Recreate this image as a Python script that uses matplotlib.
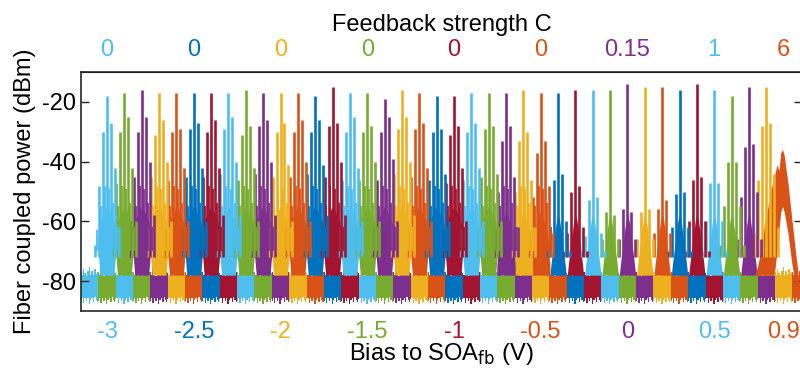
import numpy as np
import matplotlib
matplotlib.use('Agg')
import matplotlib.pyplot as plt

plt.rcParams['font.family'] = ['Liberation Sans', 'DejaVu Sans']
plt.rcParams['axes.unicode_minus'] = False

# MATLAB default colour order
BLUE, ORANGE, YELLOW, PURPLE = '#0072BD', '#D95319', '#EDB120', '#7E2F8E'
GREEN, LBLUE, RED = '#77AC30', '#4DBEEE', '#A2142F'
CYCLE = [BLUE, ORANGE, YELLOW, PURPLE, GREEN, LBLUE, RED]

'''
Data read off the picture
'''
bias = np.round(np.arange(-3.0, 0.95, 0.1), 2)          # 40 spectra, -3 .. 0.9 V
# spectra were plotted from 0.9 V downwards, colour order starting at orange
spec_colors = [CYCLE[(1 + (len(bias) - 1 - m)) % 7] for m in range(len(bias))]

# visible noise-floor block colours, left to right (one block per 0.1 V)
floor_colors = [LBLUE, GREEN] + spec_colors

# longitudinal mode peak heights (dBm), modes -3..+3 around the main mode
peaks = [
    [-68, -48, -30, -18, -27, -42, -62],
    [-62, -47, -30, -17, -25, -42, -60],
    [-60, -45, -30, -16, -25, -40, -58],
    [-62, -45, -31, -17, -26, -40, -60],
    [-62, -46, -30, -17, -29, -42, -60],
    [-62, -45, -29, -17, -27, -42, -60],
    [-60, -45, -30, -17, -26, -42, -58],
    [-60, -44, -29, -17, -25, -40, -58],
    [-62, -46, -31, -16, -28, -42, -60],
    [-60, -44, -28, -17, -26, -40, -58],
    [-62, -45, -30, -17, -27, -41, -60],
    [-62, -45, -30, -17, -26, -40, -60],
    [-60, -44, -30, -18, -26, -41, -58],
    [-60, -45, -28, -15, -27, -40, -58],
    [-62, -46, -30, -17, -25, -42, -60],
    [-62, -46, -30, -17, -28, -40, -60],
    [-62, -46, -30, -19, -25, -39, -60],
    [-60, -44, -29, -16, -25, -40, -58],
    [-62, -45, -29, -17, -27, -42, -60],
    [-62, -46, -30, -18, -29, -44, -60],
    [-62, -47, -31, -18, -28, -42, -60],
    [-62, -46, -30, -17, -27, -42, -60],
    [-62, -45, -29, -17, -28, -44, -60],
    [-64, -50, -33, -17, -28, -45, -62],
    [-64, -50, -33, -16, -30, -46, -62],
    [-66, -52, -37, -17, -33, -48, -64],
    [-70, -62, -46, -17, -44, -60, -70],
    [-70, -64, -50, -16, -48, -62, -70],
    [-70, -65, -53, -16, -52, -64, -70],
    [-72, -66, -57, -16, -58, -66, -72],
    [-72, -66, -56, -14, -57, -66, -72],
    [-72, -66, -57, -15, -56, -66, -72],
    [-72, -64, -56, -15, -53, -64, -72],
    [-70, -62, -51, -16, -50, -62, -70],
    [-70, -60, -46, -14, -45, -60, -70],
    [-70, -60, -47, -16, -47, -60, -70],
    [-68, -55, -40, -18, -40, -55, -68],
    [-66, -52, -35, -15, -34, -50, -66],
    [-64, -46, -28, -15, -27, -44, -62],
]
mode_spacing = 0.023   # V
# weaker lines sitting between the modes (wide clusters only)
sub_offsets = [-0.058, -0.035, -0.012, 0.012, 0.035, 0.058]
sub_heights = [-63, -55, -48, -49, -54, -62]

# pedestal (ASE shoulder) profile around each cluster, offset in V
ped_u = [-0.053, -0.047, -0.040, -0.025, -0.01, 0.0, 0.01, 0.025, 0.040, 0.047, 0.053]
ped_wide_hi = [-66, -63, -60, -58, -56, -55, -56, -58, -60, -63, -66]
ped_wide_lo = [-68, -73, -78, -78, -78, -78, -78, -78, -78, -73, -68]
ped_mid_hi = [-75, -70, -65, -61, -58, -57, -58, -61, -65, -70, -75]
ped_narrow_hi = [-78, -78, -74, -67, -60, -57, -60, -67, -74, -78, -78]
ped_flat_lo = [-78, -78, -78, -78, -78, -78, -78, -78, -78, -78, -78]

# broad emission at 0.9 V (C = 6)
hump_v = [0.735, 0.750, 0.765, 0.780, 0.795, 0.810, 0.825, 0.838, 0.850, 0.862,
          0.873, 0.883, 0.894, 0.904, 0.913, 0.925, 0.936, 0.947, 0.959, 0.968,
          0.977, 0.986, 0.994, 1.006]
hump_hi = [-78, -75, -71, -66, -60, -55, -50, -47, -44, -41,
           -43, -37, -36, -38, -42, -47, -53, -59, -65, -70,
           -74, -79, -83, -86]
hump_lo = [-78, -78, -78, -78, -78, -78, -78, -78, -76, -70,
           -63, -57, -55, -57, -60, -64, -69, -74, -78, -82,
           -85, -86, -86, -86]

# noise floor band and the ragged edge of it seen in every block
floor_lo, floor_hi = -86.0, -77.6
floor_u = [-0.05, -0.042, -0.034, -0.026, -0.018, -0.010, -0.002,
           0.006, 0.014, 0.022, 0.030, 0.038, 0.046, 0.05]
floor_top_jag = [0.6, -0.4, 1.5, 0.2, -0.7, 1.1, 2.2, -0.3, 0.9, -0.5, 1.6, 0.1, 0.7, 0.3]
floor_bot_jag = [-0.5, 0.4, -1.4, 0.2, -0.8, 0.5, -1.7, -0.2, 0.3, -1.0, 0.6, -0.4, -0.9, 0.1]

tick_bias = [-3, -2.5, -2, -1.5, -1, -0.5, 0, 0.5, 0.9]
tick_bias_labels = ['-3', '-2.5', '-2', '-1.5', '-1', '-0.5', '0', '0.5', '0.9']
tick_C_labels = ['0', '0', '0', '0', '0', '0', '0.15', '1', '6']
tick_colors = [LBLUE, BLUE, YELLOW, GREEN, RED, ORANGE, PURPLE, LBLUE, ORANGE]

'''
Plot
'''
fig = plt.figure(figsize=(8, 3.72), dpi=100)
ax = fig.add_axes([81/800, 61/372, 721/800, 239/372])

# noise floor blocks
for b, col in enumerate(floor_colors):
    c = -3.1 + 0.1 * b
    ax.fill_between(c + np.array(floor_u),
                    floor_lo + np.array(floor_bot_jag),
                    floor_hi + np.array(floor_top_jag),
                    step='mid', color=col, lw=0, zorder=1)

# clusters, drawn from right to left so the lower bias ends on top
for m in range(len(bias) - 2, -1, -1):
    v, col = bias[m], spec_colors[m]
    if m <= 22:
        hi, lo = ped_wide_hi, ped_wide_lo
    elif m <= 25:
        hi, lo = ped_mid_hi, ped_flat_lo
    else:
        hi, lo = ped_narrow_hi, ped_flat_lo
    ax.fill_between(v + np.array(ped_u), lo, hi, color=col, lw=0, zorder=2)
    if m <= 25:
        ax.vlines(v + np.array(sub_offsets), -70, sub_heights, color=col, lw=1.3, zorder=3)
    xs = v + mode_spacing * np.arange(-3, 4)
    ax.vlines(xs, -72, peaks[m], color=col, lw=1.9, zorder=3)

ax.fill_between(hump_v, hump_lo, hump_hi, color=ORANGE, lw=0, zorder=2)

ax.set_xlim(-3.15, 1.006)
ax.set_ylim(-90, -10)
ax.set_yticks([-80, -60, -40, -20])
ax.tick_params(axis='y', direction='in', length=6, width=1, labelsize=17,
               right=True, colors='#262626', labelcolor='black')
ax.set_xticks(tick_bias)
ax.set_xticklabels(tick_bias_labels)
ax.tick_params(axis='x', length=0, labelsize=17, pad=7)
for lab, col in zip(ax.get_xticklabels(), tick_colors):
    lab.set_color(col)
for s in ax.spines.values():
    s.set_linewidth(1.2)
    s.set_color('#262626')

top = ax.secondary_xaxis('top')
top.set_xticks(tick_bias)
top.set_xticklabels(tick_C_labels)
top.tick_params(axis='x', length=0, labelsize=17, pad=8)
for lab, col in zip(top.get_xticklabels(), tick_colors):
    lab.set_color(col)
top.set_xlabel('Feedback strength C', fontsize=17, labelpad=6)

ax.set_xlabel('Bias to SOA$_{\\mathrm{fb}}$ (V)', fontsize=17, labelpad=-1)
ax.set_ylabel('Fiber coupled power (dBm)', fontsize=17, labelpad=4)

fig.savefig('out.png', dpi=100)
